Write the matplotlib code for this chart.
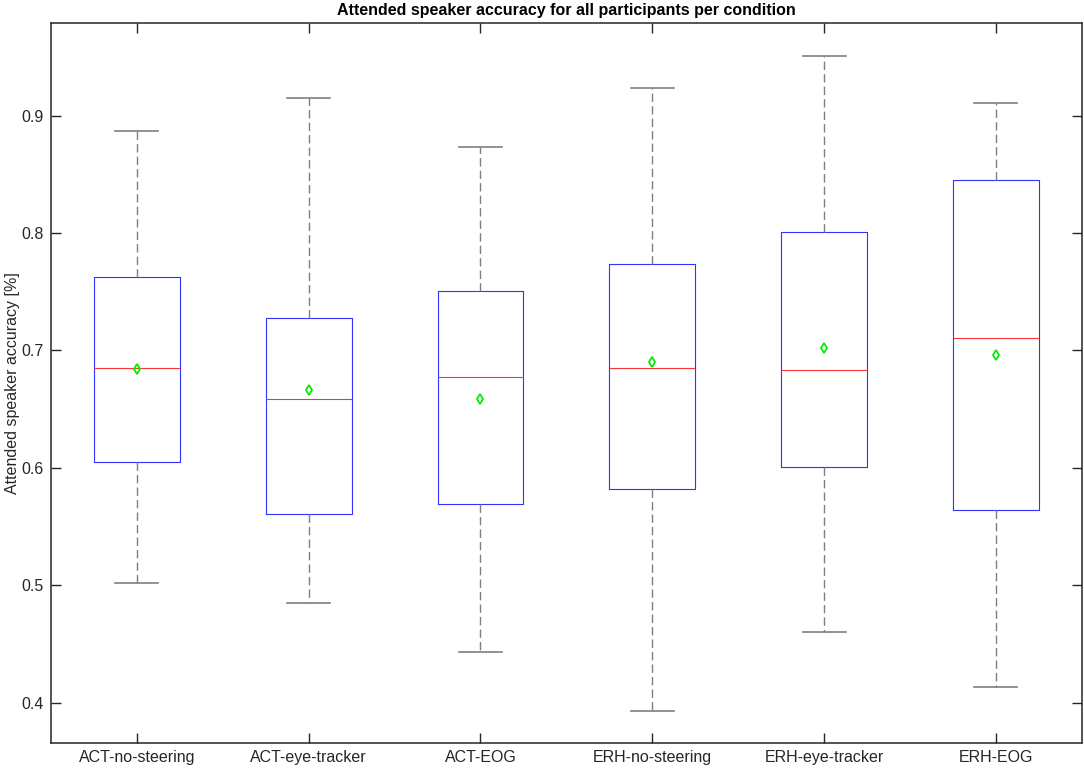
import matplotlib
matplotlib.use("Agg")
import matplotlib.pyplot as plt

# values
conditions = ["ACT-no-steering", "ACT-eye-tracker", "ACT-EOG",
              "ERH-no-steering", "ERH-eye-tracker", "ERH-EOG"]
whisker_low = [0.502, 0.485, 0.443, 0.393, 0.460, 0.413]
q1 = [0.605, 0.561, 0.569, 0.582, 0.601, 0.564]
median = [0.685, 0.659, 0.677, 0.685, 0.683, 0.711]
q3 = [0.763, 0.728, 0.751, 0.774, 0.801, 0.845]
whisker_high = [0.887, 0.915, 0.873, 0.924, 0.951, 0.911]
mean = [0.684, 0.666, 0.659, 0.690, 0.702, 0.696]

plt.rcParams["font.family"] = ["Liberation Sans", "DejaVu Sans"]

stats = []
for i, name in enumerate(conditions):
    stats.append(dict(label=name, whislo=whisker_low[i], q1=q1[i], med=median[i],
                      q3=q3[i], whishi=whisker_high[i], mean=mean[i], fliers=[]))

fig = plt.figure(figsize=(10.84, 7.72), dpi=100)
ax = fig.add_axes([0.047, 0.0376, 0.951, 0.9326])

ax.bxp(stats, positions=range(1, len(conditions) + 1), widths=0.5,
       showmeans=True, showfliers=False,
       boxprops=dict(color="#3333ff", linewidth=0.8),
       medianprops=dict(color="#ff3333", linewidth=0.8),
       whiskerprops=dict(color="#7f7f7f", linewidth=1.0, linestyle=(0, (6, 3))),
       capprops=dict(color="#7f7f7f", linewidth=1.2),
       capwidths=0.25,
       meanprops=dict(marker="d", markerfacecolor="none", markeredgecolor="#00ee00",
                      markeredgewidth=1.3, markersize=5.5))

ax.set_xlim(0.5, 6.5)
ax.set_ylim(0.3656, 0.979)
ax.set_yticks([0.4, 0.5, 0.6, 0.7, 0.8, 0.9])
ax.set_yticklabels(["0.4", "0.5", "0.6", "0.7", "0.8", "0.9"])
ax.tick_params(direction="in", length=7.5, width=1.0, color="#262626",
               top=True, right=True, labelsize=11.5, labelcolor="#262626", pad=5)
for s in ax.spines.values():
    s.set_color("#262626")
    s.set_linewidth(1.1)

ax.set_ylabel("Attended speaker accuracy [%]", fontsize=11.5, color="#262626", labelpad=1)
ax.set_title("Attended speaker accuracy for all participants per condition",
             fontsize=11.5, fontweight="bold", pad=6)

fig.savefig("out.png", dpi=100)
